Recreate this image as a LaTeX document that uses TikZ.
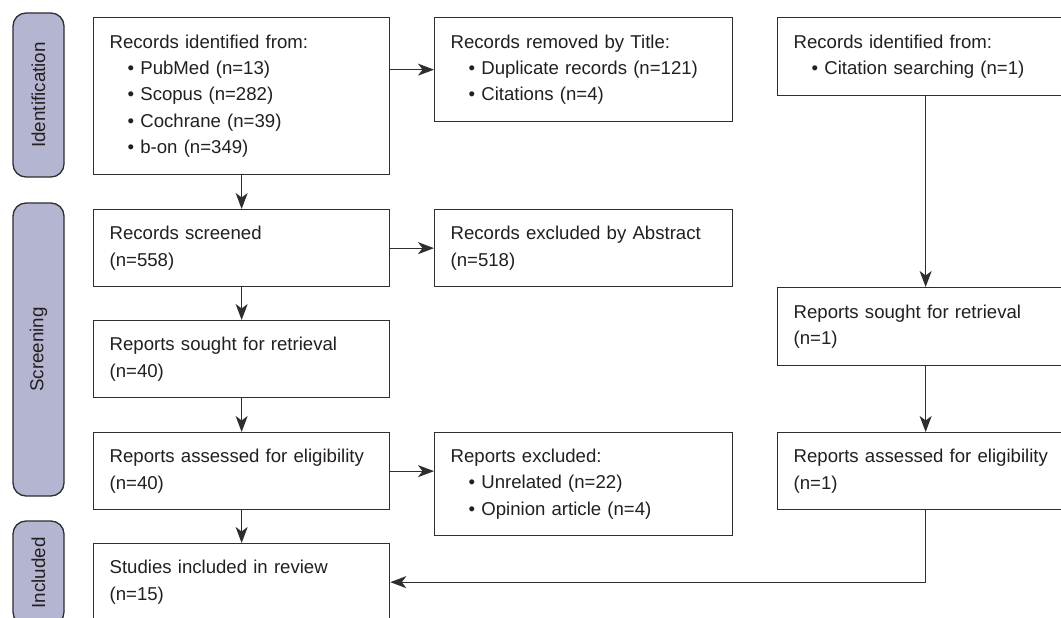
\documentclass[tikz,border=0pt]{standalone}
\usepackage{fontspec}
\setmainfont{Liberation Sans}
\usetikzlibrary{arrows.meta,calc}
\definecolor{pillfill}{HTML}{B4B6D1}
\definecolor{ink}{HTML}{231F20}
\definecolor{edgec}{HTML}{2E2E2E}
\tikzset{
  box/.style={draw=edgec, line width=1.3pt, fill=white, text=ink, align=left,
    inner xsep=16pt, inner ysep=0pt, anchor=north west,
    font=\fontsize{18.6}{26.3}\selectfont},
  lbox/.style={box, text width=264pt},
  mbox/.style={box, text width=266pt},
  phase/.style={draw=edgec, line width=1.3pt, fill=pillfill, rounded corners=13pt,
    rotate=90, minimum height=51pt, inner sep=0pt, text=ink,
    font=\fontsize{18.8}{22}\selectfont},
  flowarrow/.style={draw=edgec, line width=1.2pt,
    -{Stealth[length=16pt,width=12pt,inset=4.5pt,fill=edgec]}}
}
\begin{document}
\begin{tikzpicture}[x=1pt,y=1pt]
\useasboundingbox (0,0) rectangle (1061,-618);
\clip (0,0) rectangle (1061,-618);
\fill[white] (0,0) rectangle (1061,-618);

% phase pills
\node[phase, minimum width=164pt] (ph1) at (38.5,-95) {Identification};
\node[phase, minimum width=293pt] (ph2) at (38.5,-349.5) {Screening};
\node[phase, minimum width=104pt] (ph3) at (38.5,-573) {Included};

% left column
\node[lbox, minimum height=157pt] (L1) at (93,-17) {Records identified from:\\
\hspace*{18pt}• PubMed (n=13)\\
\hspace*{18pt}• Scopus (n=282)\\
\hspace*{18pt}• Cochrane (n=39)\\
\hspace*{18pt}• b-on (n=349)};
\node[lbox, minimum height=77pt] (L2) at (93,-209) {Records screened\\(n=558)};
\node[lbox, minimum height=77pt] (L3) at (93,-320) {Reports sought for retrieval\\(n=40)};
\node[lbox, minimum height=77pt] (L4) at (93,-432) {Reports assessed for eligibility\\(n=40)};
\node[lbox, minimum height=77pt] (L5) at (93,-543) {Studies included in review\\(n=15)};

% middle column
\node[mbox, minimum height=104pt] (M1) at (434,-17) {Records removed by Title:\\
\hspace*{18pt}• Duplicate records (n=121)\\
\hspace*{18pt}• Citations (n=4)};
\node[mbox, minimum height=77pt] (M2) at (434,-209) {Records excluded by Abstract\\(n=518)};
\node[mbox, minimum height=103pt] (M3) at (434,-432) {Reports excluded:\\
\hspace*{18pt}• Unrelated (n=22)\\
\hspace*{18pt}• Opinion article (n=4)};

% right column
\node[lbox, minimum height=78pt] (R1) at (777,-17) {Records identified from:\\
\hspace*{18pt}• Citation searching (n=1)};
\node[lbox, minimum height=78pt] (R2) at (777,-287) {Reports sought for retrieval\\(n=1)};
\node[lbox, minimum height=77pt] (R3) at (777,-432) {Reports assessed for eligibility\\(n=1)};

% connectors
\draw[flowarrow] (L1) -- (L2);
\draw[flowarrow] (L2) -- (L3);
\draw[flowarrow] (L3) -- (L4);
\draw[flowarrow] (L4) -- (L5);
\draw[flowarrow] (M1.west -| L1.east) -- (M1.west);
\draw[flowarrow] (L2.east) -- (M2.west);
\draw[flowarrow] (L4.east) -- (L4.east -| M3.west);
\draw[flowarrow] (R1) -- (R2);
\draw[flowarrow] (R2) -- (R3);
\draw[flowarrow] (R3.south) |- (L5.east);
\end{tikzpicture}
\end{document}
